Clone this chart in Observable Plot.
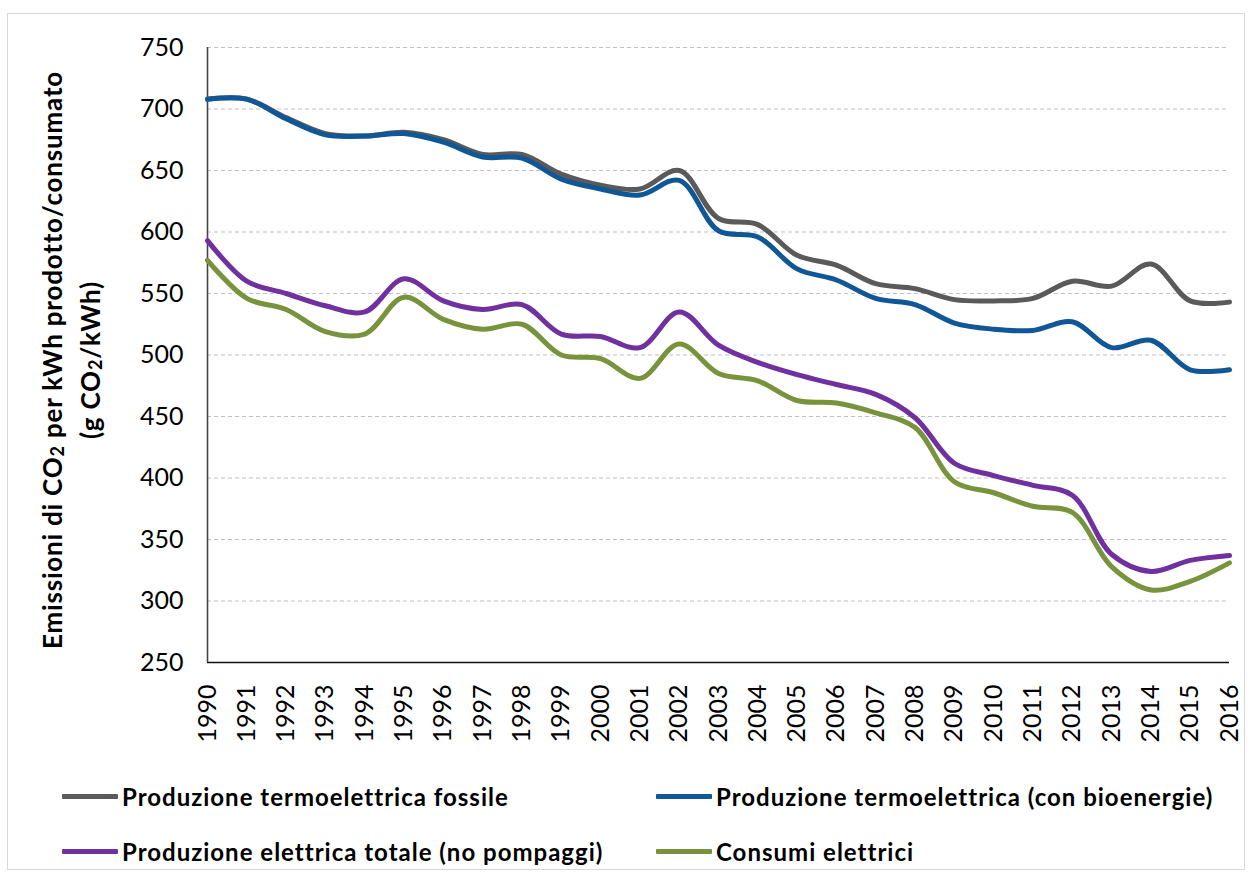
<!DOCTYPE html>
<html>
<head>
<meta charset="utf-8">
<script src="https://cdn.jsdelivr.net/npm/d3@7"></script>
<script src="https://cdn.jsdelivr.net/npm/@observablehq/plot@0.6"></script>
<style>
  body { margin: 0; background: #fff; font-family: Lato, "Open Sans", sans-serif; }
  #frame { position: absolute; left: 7px; top: 13px; width: 1236px; height: 855px; border: 1px solid #d9d9d9; background: #fff; }
  #chart { position: absolute; left: 0; top: 0; }
  .leg { position: absolute; display: flex; align-items: center; font-weight: bold; font-size: 24px; letter-spacing: 1px; color: #000; white-space: nowrap; }
  .sw { width: 56px; height: 5px; margin-right: 4px; border-radius: 1px; }
</style>
</head>
<body>
<div id="frame">
  <div id="chart"></div>
  <div id="legend"></div>
</div>
<script>
const years = [1990,1991,1992,1993,1994,1995,1996,1997,1998,1999,2000,2001,2002,2003,2004,2005,2006,2007,2008,2009,2010,2011,2012,2013,2014,2015,2016];
const seriesNames = [
  "Produzione termoelettrica fossile",
  "Produzione termoelettrica (con bioenergie)",
  "Produzione elettrica totale (no pompaggi)",
  "Consumi elettrici"
];
const seriesColors = ["#5a5a5a", "#0f5797", "#7030a0", "#77933c"];
const fossile = [708,708,693,680,678,681,675,663,663,647,638,635,650,611,606,581,573,558,554,545,544,546,560,556,574,544,543];
const bioenergie = [708,708,692,679,678,680,673,661,660,643,635,630,642,601,596,570,561,546,541,526,521,520,527,506,512,488,488];
const totale = [593,560,550,540,535,562,544,537,541,517,515,506,535,508,494,484,476,468,449,412,402,394,386,338,324,333,337];
const consumi = [577,546,537,519,517,547,529,521,525,500,497,481,509,485,479,463,461,453,441,397,388,377,372,328,309,316,331];
const yTicks = [250,300,350,400,450,500,550,600,650,700,750];

const seriesValues = [fossile, bioenergie, totale, consumi];
const data = [];
seriesNames.forEach((name, i) => {
  years.forEach((yr, j) => data.push({series: name, year: yr, value: seriesValues[i][j]}));
});

const W = 1236, H = 760;
const chart = Plot.plot({
  width: W,
  height: H,
  marginLeft: 199,
  marginTop: 33,
  marginBottom: 112,
  marginRight: 15,
  style: { fontFamily: "Lato, 'Open Sans', sans-serif", fontSize: "25px", color: "#000", background: "transparent" },
  x: { type: "linear", domain: [1990, 2016] },
  y: { domain: [250, 750] },
  color: { domain: seriesNames, range: seriesColors },
  marks: [
    Plot.gridY(yTicks, { stroke: "#c0c0c0", strokeOpacity: 1, strokeWidth: 1.2, strokeDasharray: "4,3" }),
    Plot.ruleY([250], { stroke: "#111", strokeWidth: 1.6 }),
    Plot.ruleX([1990], { stroke: "#444", strokeWidth: 1.6 }),
    Plot.line(data, { x: "year", y: "value", z: "series", stroke: "series", curve: "catmull-rom", strokeWidth: 5, strokeLinecap: "round", strokeLinejoin: "round" }),
    Plot.axisY({ ticks: yTicks, tickSize: 0, tickPadding: 24, label: null, tickFormat: d => String(d) }),
    Plot.axisX({ ticks: years, tickSize: 0, tickPadding: 22, tickRotate: -90, label: null, tickFormat: d => String(d) })
  ]
});
document.getElementById("chart").appendChild(chart);

// y-axis title
const svg = d3.select(chart);
function titleLine(x, parts) {
  const t = svg.append("text")
    .attr("transform", `translate(${x},346) rotate(-90)`)
    .attr("text-anchor", "middle")
    .attr("dominant-baseline", "middle")
    .style("font-family", "Lato, 'Open Sans', sans-serif")
    .style("font-weight", "bold")
    .style("font-size", "26px")
    .style("letter-spacing", "0.8px")
    .attr("fill", "#000");
  parts.forEach(([txt, sub]) => {
    const s = t.append("tspan").text(txt);
    if (sub) s.style("font-size", "18px").attr("dy", "4");
    else s.attr("dy", t.selectAll("tspan").size() > 1 ? "-4" : null);
  });
}
titleLine(47, [["Emissioni di CO", false], ["2", true], [" per kWh prodotto/consumato", false]]);
titleLine(85, [["(g CO", false], ["2", true], ["/kWh)", false]]);

// legend
const legendPos = [[54, 783], [648, 783], [54, 838], [648, 838]];
const legend = document.getElementById("legend");
seriesNames.forEach((name, i) => {
  const item = document.createElement("div");
  item.className = "leg";
  item.style.left = legendPos[i][0] + "px";
  item.style.top = (legendPos[i][1] - 15) + "px";
  const sw = document.createElement("div");
  sw.className = "sw";
  sw.style.background = seriesColors[i];
  const tx = document.createElement("span");
  tx.textContent = name;
  item.appendChild(sw);
  item.appendChild(tx);
  legend.appendChild(item);
});
</script>
</body>
</html>
